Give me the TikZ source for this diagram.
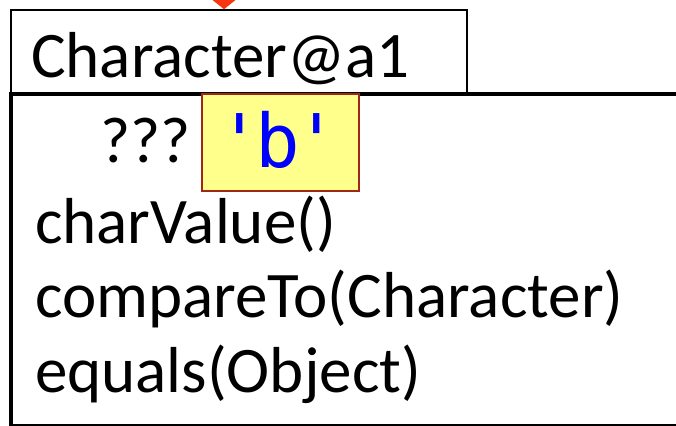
\documentclass[tikz,border=0pt]{standalone}
\usepackage{fontspec}
\setmainfont{Carlito}
\newfontfamily\monofnt{DejaVu Sans Mono}
\usetikzlibrary{arrows.meta}
\definecolor{arrowred}{RGB}{248,52,18}
\definecolor{noteyellow}{RGB}{255,255,140}
\definecolor{noteborder}{RGB}{160,40,20}
\definecolor{valblue}{RGB}{0,0,255}
\tikzset{
  x=1pt, y=1pt,
  boxthin/.style={draw=black, line width=1.5pt, inner sep=0pt, rectangle},
  boxthick/.style={draw=black, line width=4.5pt, inner sep=0pt, rectangle},
  valbox/.style={draw=noteborder, fill=noteyellow, line width=1.5pt, inner sep=0pt, rectangle},
  lbl/.style={inner sep=0pt, anchor=base west, font=\fontsize{65}{70}\selectfont},
  vallbl/.style={inner sep=0pt, anchor=base, text=valblue, font=\monofnt\fontsize{74}{80}\selectfont},
  ptr/.style={draw=arrowred, line width=5pt, -{Triangle[length=14pt,width=34pt,fill=arrowred]}}
}
\begin{document}
\begin{tikzpicture}
\useasboundingbox (0,0) rectangle (676,-425);
\clip (0,0) rectangle (676,-425);
% header box
\node[boxthin, minimum width=456pt, minimum height=84pt] (hdr) at (239,-52) {};
\node[lbl] (hdrtext) at (31,-78) {Character@a1};
% object body box (extends past right edge)
\node[boxthick, minimum width=689pt, minimum height=332pt] (obj) at (355.5,-260) {};
% value field
\node[valbox, minimum width=157pt, minimum height=97pt] (val) at (280.5,-142.5) {};
\node[lbl] (field) at (100,-162) {???};
\node[vallbl] (valtext) at (278,-167) {'\kern-6pt b\kern-6pt '};
% methods
\node[lbl] (m1) at (35,-243) {charValue()};
\node[lbl] (m2) at (35,-317.5) {compareTo(Character)};
\node[lbl] (m3) at (35,-392) {equals(Object)};
% incoming pointer
\coordinate (src) at (224,40);
\draw[ptr] (src) -- (src |- hdr.north);
\end{tikzpicture}
\end{document}
